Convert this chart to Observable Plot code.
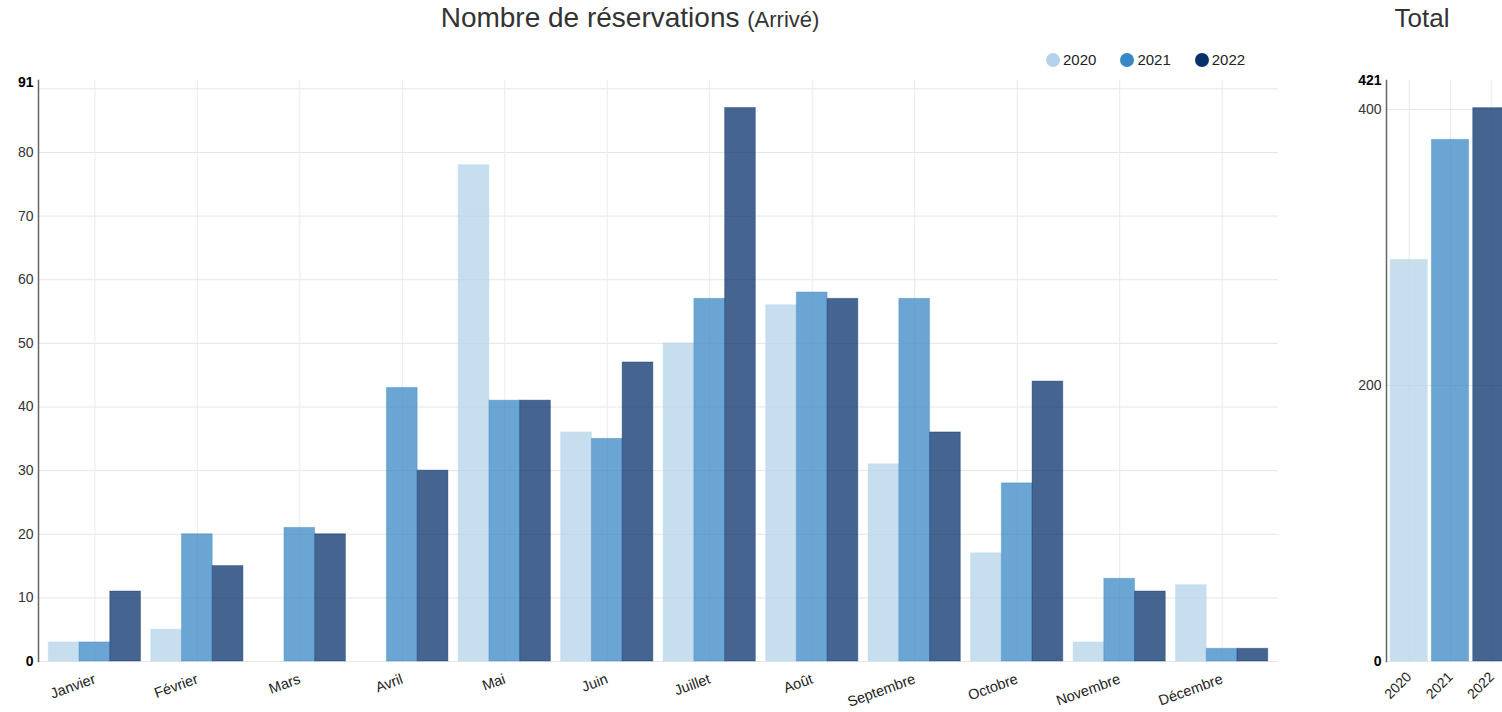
<!DOCTYPE html>
<html>
<head>
<meta charset="utf-8">
<script src="https://cdn.jsdelivr.net/npm/d3@7"></script>
<script src="https://cdn.jsdelivr.net/npm/@observablehq/plot@0.6"></script>
<style>
  html, body { margin:0; padding:0; background:#fff; overflow:hidden; }
  body { width:1502px; height:712px; position:relative; font-family:"Liberation Sans", Arial, sans-serif; color:#333; }
  .abs { position:absolute; }
  #title { left:0; width:1260px; top:2px; text-align:center; font-size:28px; color:#333; }
  #title small { font-size:22px; }
  #total { left:1352px; width:140px; top:3px; text-align:center; font-size:26px; color:#333; }
  #legend { top:51px; left:1046px; font-size:15px; color:#222; display:flex; }
  .li { display:flex; align-items:center; margin-right:24px; }
  .dot { width:14px; height:14px; border-radius:50%; margin-right:3px; }
  svg { max-width:none !important; }
</style>
</head>
<body>
<div id="title" class="abs">Nombre de réservations <small>(Arrivé)</small></div>
<div id="total" class="abs">Total</div>
<div id="legend" class="abs"></div>
<div id="bg" class="abs" style="left:0;top:60px;width:1290px;"></div>
<div id="fg" class="abs" style="left:0;top:60px;width:1290px;"></div>
<div id="right" class="abs" style="left:1340px;top:60px;width:200px;"></div>
<script>
const months = ["Janvier","Février","Mars","Avril","Mai","Juin","Juillet","Août","Septembre","Octobre","Novembre","Décembre"];
const years = ["2020","2021","2022"];
const v2020 = [3,5,0,0,78,36,50,56,31,17,3,12];
const v2021 = [3,20,21,43,41,35,57,58,57,28,13,2];
const v2022 = [11,15,20,30,41,47,87,57,36,44,11,2];
const colors = ["#b4d3ea","#3a87c4","#08306b"];
const leftTicks = [10,20,30,40,50,60,70,80];
const leftGrid = [0,10,20,30,40,50,60,70,80,90];
const leftEnds = [0,91];
const rightTicks = [200,400];
const rightGrid = [0,200,400];
const rightEnds = [0,421];

const series = [v2020, v2021, v2022];
const data = months.flatMap((m,i)=>years.map((y,j)=>({month:m, year:y, value:series[j][i]})));
const totals = years.map((y,j)=>({year:y, value:d3.sum(series[j])}));

// legend
const leg = document.getElementById("legend");
years.forEach((y,j)=>{
  const d = document.createElement("div"); d.className="li";
  d.innerHTML = `<span class="dot" style="background:${colors[j]}"></span>${y}`;
  leg.appendChild(d);
});

const font = "'Liberation Sans', Arial, sans-serif";
const W = 1290, H = 652, ML = 38, MR = 12, MT = 22, MB = 51;

// background: grid, axes
const bg = Plot.plot({
  width:W, height:H, marginLeft:ML, marginRight:MR, marginTop:MT, marginBottom:MB,
  style:{fontFamily:font, background:"transparent", color:"#333", overflow:"visible", maxWidth:"none"},
  x:{type:"band", domain:months, paddingInner:0.1, paddingOuter:0.1, round:false, axis:null},
  y:{domain:[0,91], axis:null},
  marks:[
    Plot.gridY(leftGrid, {stroke:"#e6e6e6", strokeOpacity:1, strokeWidth:1}),
    Plot.ruleX(months, {x:d=>d, stroke:"#ebebeb", strokeWidth:1, y1:91, y2:0, insetTop:-2}),
    Plot.frame({anchor:"left", stroke:"#666", strokeWidth:1.5, insetTop:-2}),
    Plot.axisY(leftTicks, {tickSize:0, tickPadding:5, fontSize:14, fill:"#333", label:null}),
    Plot.axisY(leftEnds, {tickSize:0, tickPadding:5, fontSize:14, fontWeight:"bold", fill:"#000", label:null}),
    Plot.axisX({tickRotate:-20, tickSize:0, tickPadding:17, fontSize:14.5, fill:"#222", label:null})
  ]
});
document.getElementById("bg").appendChild(bg);

// foreground: bars
const fg = Plot.plot({
  width:W, height:H, marginLeft:ML, marginRight:MR, marginTop:MT, marginBottom:MB,
  style:{fontFamily:font, background:"transparent", overflow:"visible", maxWidth:"none"},
  fx:{domain:months, paddingInner:0.1, paddingOuter:0.1, round:false, axis:null},
  x:{domain:years, padding:0, round:false, axis:null},
  y:{domain:[0,91], axis:null},
  color:{domain:years, range:colors},
  marks:[
    Plot.barY(data, {fx:"month", x:"year", y:"value", fill:"year", fillOpacity:0.75, stroke:"year", strokeOpacity:0.35, strokeWidth:1, inset:0})
  ]
});
document.getElementById("fg").appendChild(fg);

// right panel: totals
const right = Plot.plot({
  width:200, height:H, marginLeft:46, marginRight:26, marginTop:20, marginBottom:MB,
  style:{fontFamily:font, background:"transparent", color:"#333", overflow:"visible", maxWidth:"none"},
  x:{type:"band", domain:years, paddingInner:0.1, paddingOuter:0.1, round:false, axis:null},
  y:{domain:[0,421], axis:null},
  color:{domain:years, range:colors},
  marks:[
    Plot.gridY(rightGrid, {stroke:"#e6e6e6", strokeOpacity:1}),
    Plot.ruleX(years, {x:d=>d, stroke:"#ebebeb", y1:421, y2:0}),
    Plot.frame({anchor:"left", stroke:"#666", strokeWidth:1.5}),
    Plot.barY(totals, {x:"year", y:"value", fill:"year", fillOpacity:0.75, stroke:"year", strokeOpacity:0.35}),
    Plot.axisY(rightTicks, {tickSize:0, tickPadding:5, fontSize:14, fill:"#333", label:null}),
    Plot.axisY(rightEnds, {tickSize:0, tickPadding:5, fontSize:14, fontWeight:"bold", fill:"#000", label:null}),
    Plot.axisX({tickRotate:-45, tickSize:0, tickPadding:13, fontSize:14, fill:"#222", label:null})
  ]
});
document.getElementById("right").appendChild(right);
</script>
</body>
</html>
